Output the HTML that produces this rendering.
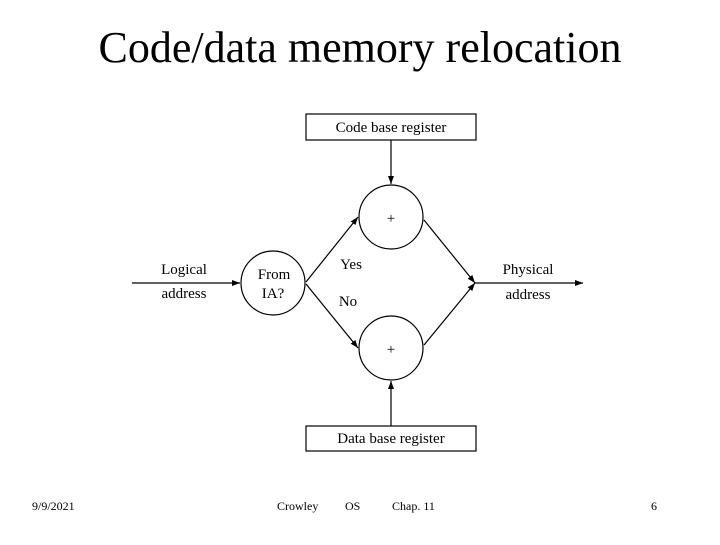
<!DOCTYPE html>
<html><head><style>
body{margin:0;background:#fff;width:720px;height:540px;overflow:hidden;font-family:"Liberation Serif",serif}
</style></head><body>
<svg width="720" height="540" xmlns="http://www.w3.org/2000/svg" font-family="Liberation Serif, serif">
<defs><marker id="a" markerWidth="8" markerHeight="6" refX="8" refY="3" orient="auto" markerUnits="userSpaceOnUse"><path d="M0,0 L8,3 L0,6z" fill="#000"/></marker></defs>
<text x="360" y="62" font-size="44" text-anchor="middle">Code/data memory relocation</text>
<g stroke="#000" stroke-width="1.2" fill="none">
<rect x="306" y="114" width="170" height="26"/>
<rect x="306" y="426" width="170" height="25"/>
<circle cx="391" cy="217" r="32"/>
<circle cx="391" cy="348" r="32"/>
<circle cx="273" cy="283" r="32"/>
<line x1="132" y1="283" x2="240" y2="283" marker-end="url(#a)"/>
<line x1="391" y1="140" x2="391" y2="184" marker-end="url(#a)"/>
<line x1="391" y1="426" x2="391" y2="381" marker-end="url(#a)"/>
<line x1="306" y1="282" x2="358" y2="217" marker-end="url(#a)"/>
<line x1="306" y1="284" x2="358" y2="348" marker-end="url(#a)"/>
<line x1="424" y1="220" x2="475" y2="283" marker-end="url(#a)"/>
<line x1="424" y1="345" x2="475" y2="283" marker-end="url(#a)"/>
<line x1="475" y1="283" x2="583" y2="283" marker-end="url(#a)"/>
</g>
<g font-size="15" text-anchor="middle" fill="#000">
<text x="391" y="132">Code base register</text>
<text x="391" y="443">Data base register</text>
<text x="391" y="223">+</text>
<text x="391" y="354">+</text>
<text x="274" y="279">From</text>
<text x="273" y="298">IA?</text>
<text x="184" y="274">Logical</text>
<text x="184" y="298">address</text>
<text x="528" y="274">Physical</text>
<text x="528" y="299">address</text>
<text x="351" y="269">Yes</text>
<text x="348" y="306">No</text>
</g>
<g font-size="12" fill="#000">
<text x="32" y="510">9/9/2021</text>
<text x="277" y="510">Crowley</text>
<text x="345" y="510">OS</text>
<text x="392" y="510">Chap. 11</text>
<text x="651" y="510">6</text>
</g>
</svg>
</body></html>
